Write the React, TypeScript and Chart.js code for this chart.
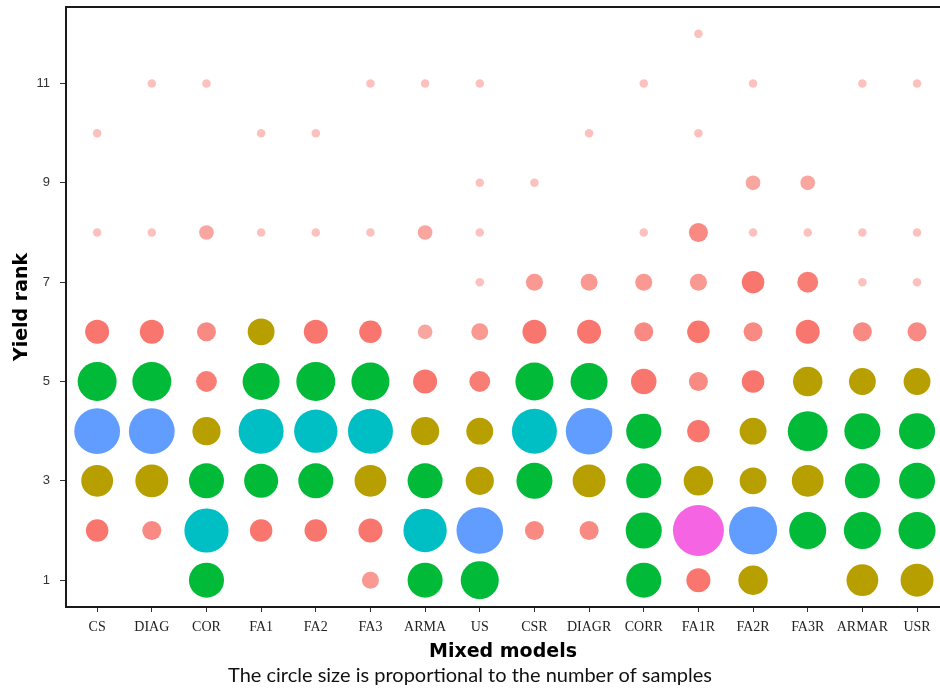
import { useEffect, useRef } from "react";
import { Chart, registerables } from "chart.js";

Chart.register(...registerables);

// Mixed models (x categories)
const models = [
  "CS", "DIAG", "COR", "FA1", "FA2", "FA3", "ARMA", "US",
  "CSR", "DIAGR", "CORR", "FA1R", "FA2R", "FA3R", "ARMAR", "USR",
];

// Yield ranks 1..12 (index 0 = rank 1)
const ranks = [1, 2, 3, 4, 5, 6, 7, 8, 9, 10, 11, 12];
const yTickValues = [1, 3, 5, 7, 9, 11];

// Number of samples per rank (rank 1 .. rank 12) for each model
const CS = [0, 7, 14, 29, 21, 8, 0, 1, 0, 1, 0, 0];
const DIAG = [0, 5, 15, 29, 21, 8, 0, 1, 0, 0, 1, 0];
const COR = [17, 27, 17, 11, 6, 5, 0, 3, 0, 0, 1, 0];
const FA1 = [0, 7, 16, 28, 19, 10, 0, 1, 0, 1, 0, 0];
const FA2 = [0, 7, 17, 26, 21, 8, 0, 1, 0, 1, 0, 0];
const FA3 = [4, 8, 14, 28, 20, 7, 0, 1, 0, 0, 1, 0];
const ARMA = [17, 26, 17, 11, 8, 3, 0, 3, 0, 0, 1, 0];
const US = [20, 30, 11, 10, 6, 4, 1, 1, 1, 0, 1, 0];
const CSR = [0, 5, 18, 28, 20, 8, 4, 0, 1, 0, 0, 0];
const DIAGR = [0, 5, 15, 30, 19, 8, 4, 0, 0, 1, 0, 0];
const CORR = [17, 18, 17, 17, 9, 5, 4, 1, 0, 0, 1, 0];
const FA1R = [8, 36, 12, 7, 5, 7, 4, 5, 0, 1, 0, 1];
const FA2R = [12, 32, 10, 10, 7, 5, 7, 1, 3, 0, 1, 0];
const FA3R = [0, 19, 14, 22, 12, 8, 6, 1, 3, 0, 0, 0];
const ARMAR = [14, 19, 17, 18, 10, 5, 1, 1, 0, 0, 1, 0];
const USR = [15, 19, 18, 18, 10, 5, 1, 1, 0, 0, 1, 0];

const samples = [CS, DIAG, COR, FA1, FA2, FA3, ARMA, US, CSR, DIAGR, CORR, FA1R, FA2R, FA3R, ARMAR, USR];

function colorFor(n: number): string {
  if (n <= 9) {
    const a = Math.min(1, 0.35 + 0.1 * n);
    return `rgba(248,118,109,${a})`;
  }
  if (n <= 15) return "#B79F00";
  if (n <= 24) return "#00BA38";
  if (n <= 28) return "#00BFC4";
  if (n <= 33) return "#619CFF";
  return "#F564E3";
}

const framePlugin = {
  id: "frame",
  beforeDatasetsDraw(chart: any) {
    const { ctx, chartArea } = chart;
    const { left, top, right, bottom } = chartArea;
    ctx.save();
    ctx.strokeStyle = "#1a1a1a";
    ctx.lineWidth = 2;
    ctx.beginPath();
    ctx.moveTo(right + 2, top);
    ctx.lineTo(left, top);
    ctx.lineTo(left, bottom);
    ctx.lineTo(right + 2, bottom);
    ctx.stroke();
    ctx.restore();
  },
};

export default function App() {
  const canvasRef = useRef<HTMLCanvasElement | null>(null);

  useEffect(() => {
    if (!canvasRef.current) return;
    const points: any[] = [];
    samples.forEach((counts, i) => {
      counts.forEach((n, j) => {
        if (n > 0) points.push({ x: i, y: ranks[j], r: 4.25 * Math.sqrt(n), n });
      });
    });

    const chart = new Chart(canvasRef.current, {
      type: "bubble",
      data: {
        datasets: [
          {
            data: points,
            backgroundColor: (c: any) => colorFor(c.raw ? c.raw.n : 1),
            borderWidth: 0,
            hoverRadius: 0,
          },
        ],
      },
      options: {
        responsive: false,
        animation: false,
        events: [],
        layout: { autoPadding: false, padding: { top: 7, left: 0, right: 0, bottom: 0 } },
        plugins: {
          legend: { display: false },
          tooltip: { enabled: false },
          subtitle: {
            display: true,
            position: "bottom",
            text: "The circle size is proportional to the number of samples",
            color: "#111",
            font: { family: "Lato", size: 20, weight: "normal" },
            padding: { top: 0, bottom: 6 },
          },
        },
        scales: {
          x: {
            type: "linear",
            min: -0.57,
            max: 15.42,
            afterBuildTicks: (scale: any) => {
              scale.ticks = models.map((_, i) => ({ value: i }));
            },
            afterFit: (scale: any) => {
              scale.height = 57;
              scale.paddingLeft = 0;
              scale.paddingRight = 0;
            },
            ticks: {
              autoSkip: false,
              maxRotation: 0,
              padding: 7,
              color: "#222",
              font: { family: "Liberation Serif", size: 14 },
              callback: (v: any) => models[v] ?? "",
            },
            grid: {
              display: true,
              drawOnChartArea: false,
              drawTicks: true,
              tickLength: 5,
              color: "#333",
            },
            border: { display: false },
            title: {
              display: true,
              text: "Mixed models",
              color: "#000",
              font: { family: "DejaVu Sans", size: 19, weight: "bold" },
              padding: { top: 0, bottom: 1 },
            },
          },
          y: {
            type: "linear",
            min: 0.46,
            max: 12.54,
            afterBuildTicks: (scale: any) => {
              scale.ticks = yTickValues.map((v) => ({ value: v }));
            },
            afterFit: (scale: any) => {
              scale.width = 66;
              scale.paddingTop = 0;
              scale.paddingBottom = 0;
            },
            ticks: {
              padding: 10,
              color: "#333",
              font: { family: "Liberation Sans", size: 13 },
            },
            grid: {
              display: true,
              drawOnChartArea: false,
              drawTicks: true,
              tickLength: 6,
              color: "#333",
            },
            border: { display: false },
            title: {
              display: true,
              text: "Yield rank",
              color: "#000",
              font: { family: "DejaVu Sans", size: 19, weight: "bold" },
              padding: { top: 11, bottom: 0 },
            },
          },
        },
      },
      plugins: [framePlugin],
    });
    return () => chart.destroy();
  }, []);

  return (
    <div style={{ position: "absolute", left: 0, top: 0, width: 940, height: 694, background: "#fff" }}>
      <canvas ref={canvasRef} width={940} height={694} />
    </div>
  );
}
